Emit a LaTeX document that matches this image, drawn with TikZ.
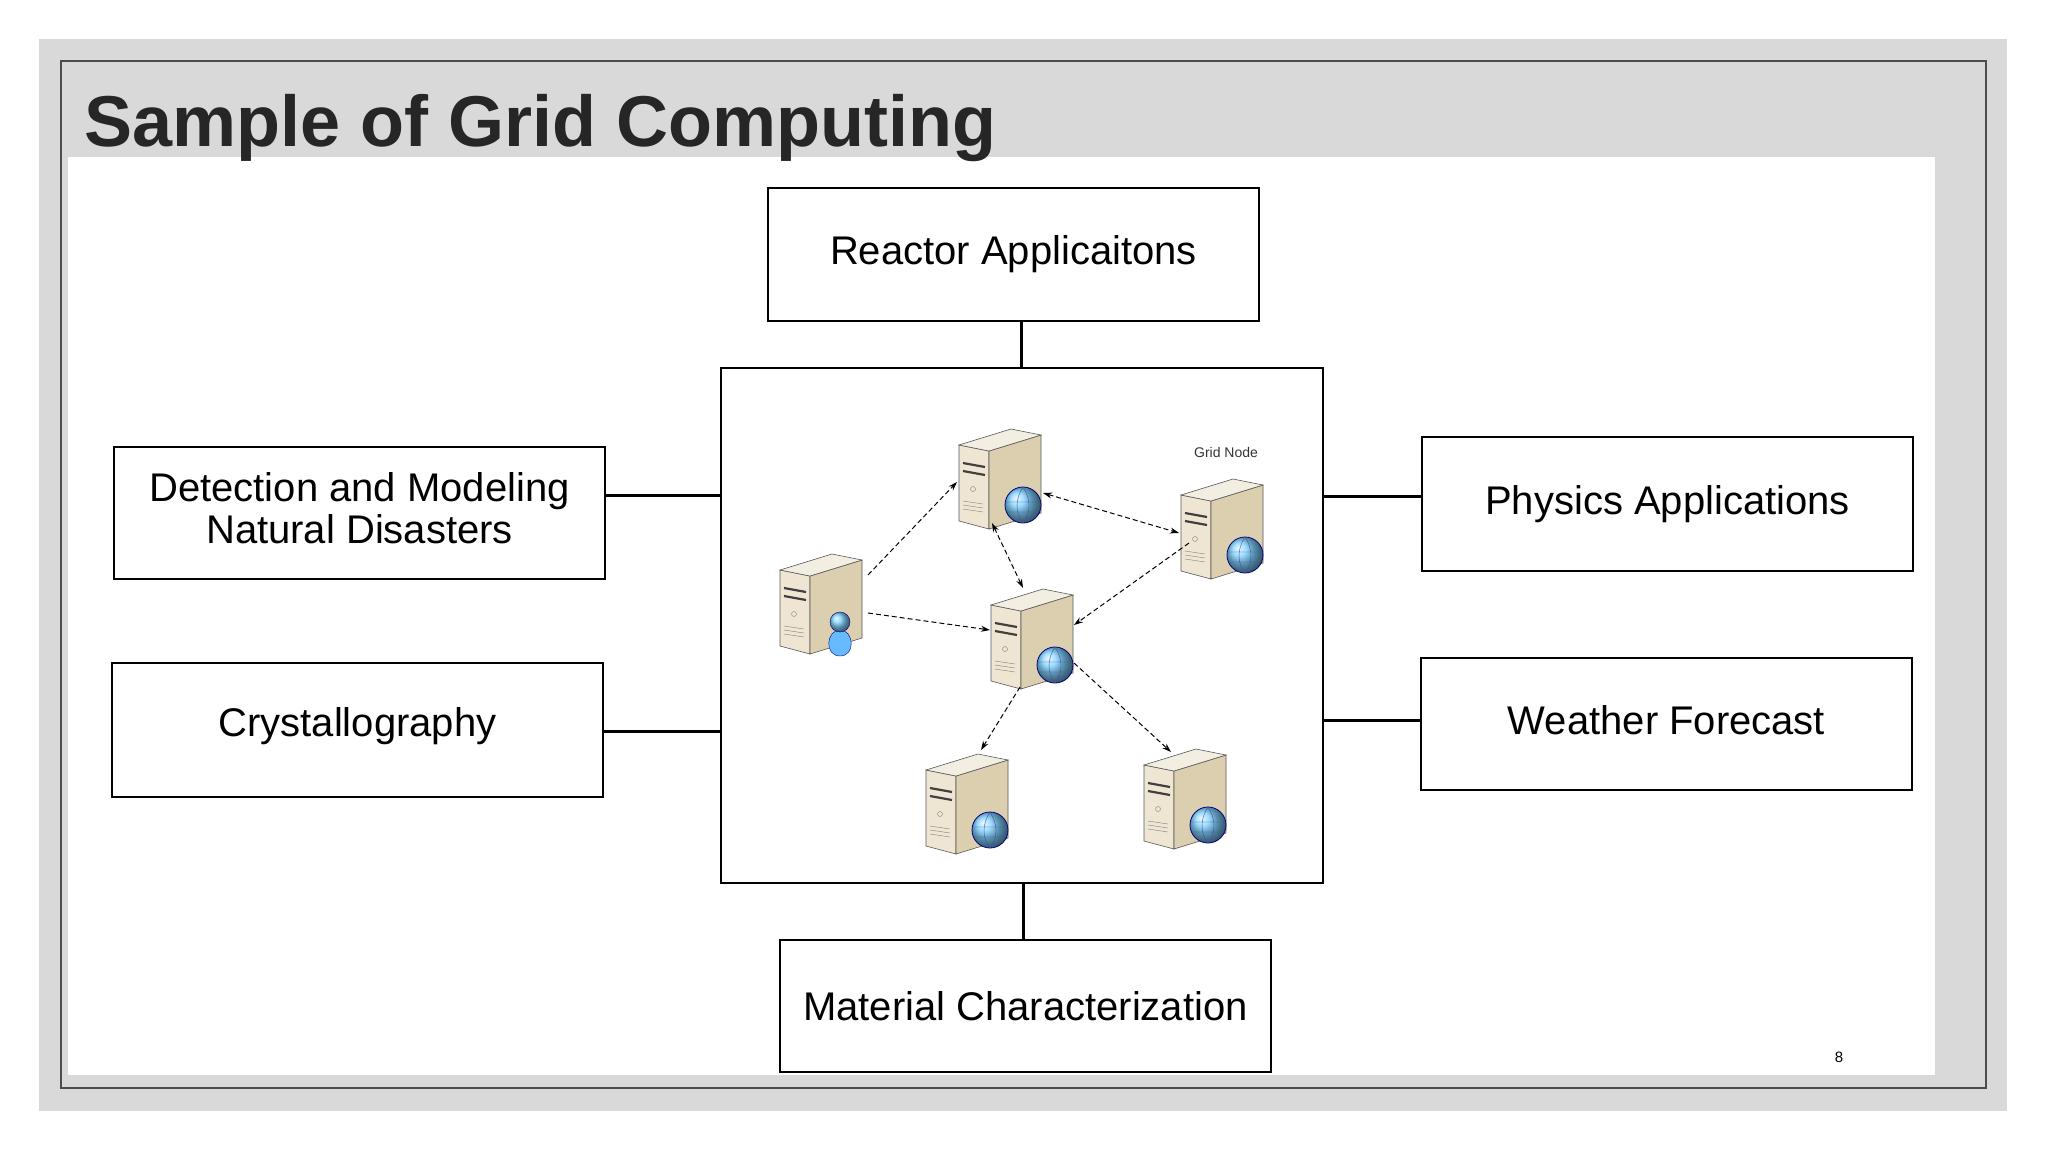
\documentclass[tikz,border=0pt]{standalone}
\usepackage{fontspec}
\setmainfont{Liberation Sans}
\usetikzlibrary{arrows.meta}
\definecolor{sfront}{HTML}{EEE6D3}
\definecolor{sside}{HTML}{DCCFB0}
\definecolor{stop}{HTML}{F3EEE2}
\begin{document}
\begin{tikzpicture}[x=1pt,y=-1pt,
  box/.style={draw=black,line width=1.2pt,fill=white,inner sep=0pt,font=\fontsize{40}{46}\selectfont,align=center},
  link/.style={line width=3pt},
  net/.style={dashed,line width=1pt,dash pattern=on 5pt off 3pt,-{Stealth[length=9pt,width=6pt]}},
  both/.style={net,{Stealth[length=9pt,width=6pt]}-{Stealth[length=9pt,width=6pt]}},
  srv/.style={minimum width=84pt,minimum height=104pt,inner sep=0pt},
  server/.pic={
    \draw[fill=sfront,draw=gray!70!black,line width=0.6pt] (-40,-30)--(-10,-24)--(-10,54)--(-40,46)--cycle;
    \draw[fill=sside,draw=gray!70!black,line width=0.6pt] (-10,-24)--(42,-40)--(42,38)--(-10,54)--cycle;
    \draw[fill=stop,draw=gray!70!black,line width=0.6pt] (-40,-30)--(-10,-24)--(42,-40)--(12,-46)--cycle;
    \foreach \yy in {-12,-4} \draw[line width=2.2pt,black!75] (-36,\yy)--(-14,\yy+4);
    \draw[gray] (-26,14) circle (2.5);
    \foreach \yy in {26,30,34} \draw[gray,line width=0.4pt] (-36,\yy)--(-16,\yy+3);
  },
  globe/.pic={
    \shade[ball color=blue!35!cyan!50!white] (24,30) circle (18);
    \draw[blue!50!black,line width=0.8pt] (24,30) circle (18);
    \draw[blue!50!black!70,line width=0.4pt] (24,12) .. controls (16,24) and (16,38) .. (24,48) (24,12) .. controls (32,24) and (32,38) .. (24,48) (7,27)--(41,27) (8,37)--(40,37);
  },
  person/.pic={
    \fill[blue!45!cyan!60!white,draw=blue!50!black] (20,56) .. controls (4,56) and (6,30) .. (20,30) .. controls (34,30) and (36,56) .. (20,56) -- cycle;
    \shade[ball color=blue!35!cyan!50!white,draw=blue!50!black] (20,22) circle (10);
  }
]
\useasboundingbox (0,0) rectangle (2048,1152);
\fill[white] (0,0) rectangle (2048,1152);
\fill[gray!30] (39,39) rectangle (2007,1111);
\draw[gray!60!black,line width=1.2pt] (61,61) rectangle (1986,1088);
\fill[white] (68,157) rectangle (1935,1075);
\node[anchor=base west,inner sep=0pt,font=\fontsize{72}{80}\selectfont\bfseries,text=black!85] (title) at (84,146) {Sample of Grid Computing};

\node[box,minimum width=491pt,minimum height=133pt] (reac) at (1013.5,254.5) {Reactor Applicaitons};
\node[box,minimum width=602pt,minimum height=515pt] (center) at (1022,625.5) {};
\node[box,minimum width=491pt,minimum height=132pt] (det) at (359.5,513) {\raisebox{8pt}{\begin{tabular}{@{}c@{}}Detection and Modeling\\[-4pt]Natural Disasters\end{tabular}}};
\node[box,minimum width=491pt,minimum height=134pt] (cry) at (357.5,730) {\raisebox{16pt}{Crystallography}};
\node[box,minimum width=491pt,minimum height=134pt] (phy) at (1667.5,504) {Physics Applications};
\node[box,minimum width=491pt,minimum height=132pt] (wea) at (1666.5,724) {\raisebox{8pt}{Weather Forecast}};
\node[box,minimum width=491pt,minimum height=132pt] (mat) at (1025.5,1006) {\raisebox{-3pt}{Material Characterization}};
\node[font=\fontsize{15}{18}\selectfont] (pg) at (1839,1057) {8};

\draw[link] (reac.south -| 1021,0) -- (center.north -| 1021,0);
\draw[link] (det.east |- 0,495) -- (center.west |- 0,495);
\draw[link] (cry.east |- 0,731) -- (center.west |- 0,731);
\draw[link] (center.east |- 0,496) -- (phy.west |- 0,496);
\draw[link] (center.east |- 0,720) -- (wea.west |- 0,720);
\draw[link] (center.south -| 1023,0) -- (mat.north -| 1023,0);

\node[srv] (stop) at (999,475) {};
\node[srv] (sright) at (1221,525) {};
\node[srv] (sleft) at (820,600) {};
\node[srv] (scen) at (1031,635) {};
\node[srv] (sbl) at (966,800) {};
\node[srv] (sbr) at (1184,795) {};
\foreach \n in {stop,sright,sleft,scen,sbl,sbr} \pic at (\n) {server};
\foreach \n in {stop,sright,scen,sbl,sbr} \pic at (\n) {globe};
\pic at (sleft) {person};
\node[font=\fontsize{14}{16}\selectfont,text=black!80] (gn) at (1226,452) {Grid Node};

\draw[net] (868,575) -- (957,482);
\draw[net] (868,613) -- (990,630);
\draw[both] (1043,493) -- (1179,533);
\draw[both] (992,523) -- (1023,588);
\draw[net] (1189,543) -- (1074,625);
\draw[net] (1020,687) -- (981,750);
\draw[net] (1074,663) -- (1171,752);
\end{tikzpicture}
\end{document}
